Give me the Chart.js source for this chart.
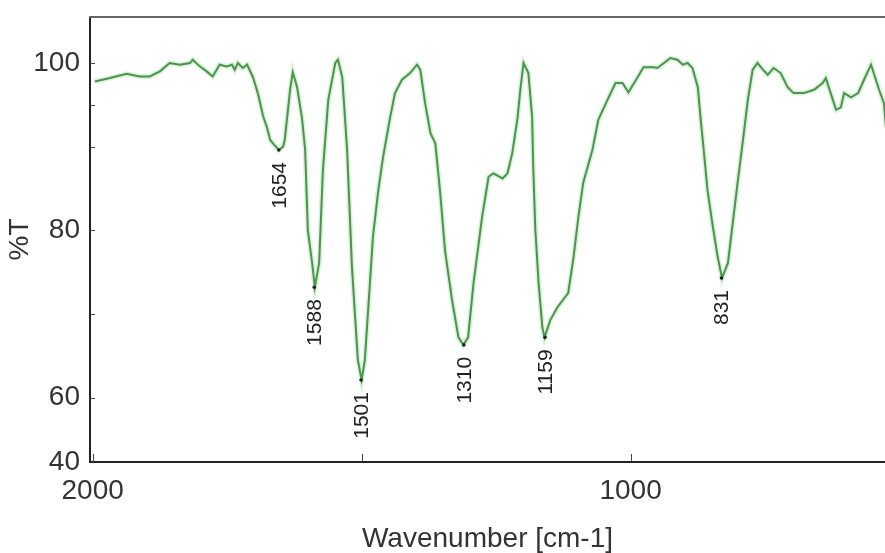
<!DOCTYPE html>
<html>
<head>
<meta charset="utf-8">
<title>IR spectrum</title>
<script src="https://cdn.jsdelivr.net/npm/chart.js@4.4.1/dist/chart.umd.min.js"></script>
<style>
  html, body { margin: 0; padding: 0; background: #ffffff; }
  #wrap { width: 885px; height: 553px; position: relative; }
</style>
</head>
<body>
<div id="wrap"><canvas id="irChart"></canvas></div>
<script>
// spectrum (wavenumber in cm-1, %T)
const wavenumbers = [
  1996, 1968, 1937, 1913, 1894, 1875, 1857, 1838, 1819, 1814,
  1801, 1788, 1777, 1764, 1751, 1741, 1736, 1730, 1721, 1713,
  1702, 1693, 1683, 1676, 1670, 1665, 1654, 1646, 1643, 1633,
  1628, 1620, 1611, 1605, 1600, 1592, 1587, 1579, 1572, 1562,
  1549, 1544, 1536, 1527, 1518, 1507, 1500, 1494, 1479, 1469,
  1460, 1447, 1438, 1425, 1410, 1397, 1391, 1382, 1372, 1363,
  1354, 1345, 1332, 1320, 1311, 1302, 1292, 1276, 1264, 1255,
  1238, 1229, 1220, 1210, 1205, 1199, 1190, 1183, 1181, 1177,
  1171, 1164, 1160, 1149, 1136, 1116, 1106, 1097, 1088, 1071,
  1060, 1043, 1028, 1015, 1004, 987, 976, 957, 950, 926,
  913, 903, 894, 885, 875, 870, 864, 857, 847, 838,
  830, 819, 810, 801, 791, 782, 773, 764, 754, 745,
  734, 721, 708, 697, 678, 659, 643, 637, 628, 618,
  609, 603, 590, 577, 566, 553, 548, 538, 529, 525
];
const transmittance = [
  97.8, 98.2, 98.7, 98.4, 98.4, 99.0, 100.0, 99.8, 100.0, 100.4,
  99.6, 99.0, 98.4, 99.8, 99.6, 99.8, 99.2, 100.0, 99.4, 99.8,
  98.3, 96.4, 93.6, 92.3, 90.8, 90.4, 89.6, 90.0, 90.8, 96.8,
  98.9, 97.1, 93.5, 89.6, 80.0, 76.1, 73.2, 76.1, 87.2, 95.6,
  100.0, 100.4, 98.3, 89.6, 75.6, 64.5, 62.1, 64.5, 79.2, 84.8,
  88.8, 93.5, 96.4, 98.0, 98.8, 99.8, 99.2, 95.2, 91.6, 90.4,
  84.5, 77.6, 71.7, 67.2, 66.3, 67.2, 73.7, 81.6, 86.4, 86.8,
  86.2, 86.8, 89.2, 93.5, 96.8, 100.0, 98.8, 93.5, 87.6, 80.0,
  73.7, 68.4, 67.2, 69.3, 70.8, 72.5, 76.8, 81.6, 85.7, 89.6,
  93.2, 95.6, 97.6, 97.6, 96.5, 98.3, 99.5, 99.5, 99.4, 100.6,
  100.4, 99.8, 100.0, 99.4, 97.1, 93.5, 89.6, 84.8, 80.4, 76.8,
  74.3, 76.1, 80.9, 85.7, 90.8, 95.6, 99.2, 100.0, 99.2, 98.6,
  99.4, 98.8, 97.1, 96.4, 96.4, 96.8, 97.6, 98.2, 96.4, 94.4,
  94.7, 96.4, 95.9, 96.4, 98.0, 99.8, 98.8, 96.8, 95.2, 92.3
];

// labelled bands
const peakLabels = ['1654', '1588', '1501', '1310', '1159', '831'];
const peakWavenumbers = [1654, 1588, 1501, 1310, 1159, 831];
const peakValues = [89.6, 73.2, 62.1, 66.3, 67.2, 74.3];

// axis ticks
const xTickValues = [2000, 1500, 1000];
const xTickLabels = ['2000', '', '1000'];
const yTickValues = [60, 80, 100];
const yBottomLabel = '40';
const yMinorTicks = [100, 95, 90, 80, 70, 60];

const FONT = '"Liberation Sans", Arial, sans-serif';
const X_MIN = 527, X_MAX = 2005;
const Y_MIN = 52.3, Y_MAX = 105.5;

const points = wavenumbers.map((w, i) => ({ x: w, y: transmittance[i] }));

// extra drawing: top frame line, inward ticks and band labels
const decorPlugin = {
  id: 'decor',
  afterDraw(chart) {
    const { ctx, chartArea, scales } = chart;
    const xs = scales.x, ys = scales.y;
    ctx.save();

    // top frame
    ctx.strokeStyle = '#666666';
    ctx.lineWidth = 2;
    ctx.beginPath();
    ctx.moveTo(chartArea.left - 1, chartArea.top);
    ctx.lineTo(chartArea.right, chartArea.top);
    ctx.stroke();

    // small inward ticks
    ctx.strokeStyle = '#444444';
    ctx.lineWidth = 1;
    yMinorTicks.forEach(v => {
      const y = Math.round(ys.getPixelForValue(v)) + 0.5;
      ctx.beginPath();
      ctx.moveTo(chartArea.left, y);
      ctx.lineTo(chartArea.left + 5, y);
      ctx.stroke();
    });
    xTickValues.forEach(v => {
      const x = Math.round(xs.getPixelForValue(v)) + 0.5;
      ctx.beginPath();
      ctx.moveTo(x, chartArea.bottom);
      ctx.lineTo(x, chartArea.bottom - 8);
      ctx.stroke();
    });

    // band labels, rotated, reading upward below each minimum
    ctx.fillStyle = '#222222';
    ctx.font = '21px ' + FONT;
    ctx.textAlign = 'right';
    ctx.textBaseline = 'middle';
    peakLabels.forEach((txt, i) => {
      const x = xs.getPixelForValue(peakWavenumbers[i]);
      const y = ys.getPixelForValue(peakValues[i]) + 12;
      ctx.save();
      ctx.translate(x, y);
      ctx.rotate(-Math.PI / 2);
      ctx.fillText(txt, 0, 1);
      ctx.restore();
      // marker dot at the minimum
      ctx.beginPath();
      ctx.arc(x, ys.getPixelForValue(peakValues[i]), 1.8, 0, Math.PI * 2);
      ctx.fill();
    });

    ctx.restore();
  }
};

const ctx = document.getElementById('irChart').getContext('2d');
const irChart = new Chart(ctx, {
  type: 'line',
  data: {
    datasets: [
      {
        // soft halo under the trace
        data: points,
        borderColor: 'rgba(140, 220, 140, 0.35)',
        borderWidth: 5,
        pointRadius: 0,
        tension: 0,
        fill: false
      },
      {
        data: points,
        borderColor: '#2d6a2f',
        borderWidth: 2,
        pointRadius: 0,
        tension: 0,
        fill: false
      }
    ]
  },
  options: {
    responsive: true,
    maintainAspectRatio: false,
    animation: false,
    layout: { padding: { top: 17, right: 0, left: 0, bottom: 0 } },
    plugins: {
      legend: { display: false },
      tooltip: { enabled: false }
    },
    scales: {
      x: {
        type: 'linear',
        reverse: true,
        min: X_MIN,
        max: X_MAX,
        afterBuildTicks: scale => {
          scale.ticks = xTickValues.map(v => ({ value: v }));
        },
        afterFit: scale => {
          scale.height = 91;
          scale.paddingLeft = 0;
          scale.paddingRight = 0;
        },
        grid: { display: false, drawTicks: false },
        border: { display: true, color: '#222222', width: 2 },
        ticks: {
          autoSkip: false,
          maxRotation: 0,
          padding: 12,
          color: '#333333',
          font: { family: FONT, size: 28 },
          callback: v => xTickLabels[xTickValues.indexOf(v)]
        },
        title: {
          display: true,
          text: 'Wavenumber [cm-1]',
          color: '#333333',
          font: { family: FONT, size: 28, lineHeight: 1 },
          padding: { top: 0, bottom: 0 }
        }
      },
      y: {
        type: 'linear',
        min: Y_MIN,
        max: Y_MAX,
        afterBuildTicks: scale => {
          scale.ticks = [{ value: Y_MIN }].concat(yTickValues.map(v => ({ value: v })));
        },
        afterFit: scale => {
          scale.width = 90;
          scale.paddingTop = 0;
          scale.paddingBottom = 0;
        },
        grid: { display: false, drawTicks: false },
        border: { display: true, color: '#222222', width: 2 },
        ticks: {
          autoSkip: false,
          padding: 10,
          color: '#333333',
          font: { family: FONT, size: 28 },
          callback: v => (v === Y_MIN ? yBottomLabel : String(v))
        },
        title: {
          display: true,
          text: '%T',
          color: '#333333',
          font: { family: FONT, size: 28, lineHeight: 1 },
          padding: { top: 6, bottom: 0 }
        }
      }
    }
  },
  plugins: [decorPlugin]
});
</script>
</body>
</html>
